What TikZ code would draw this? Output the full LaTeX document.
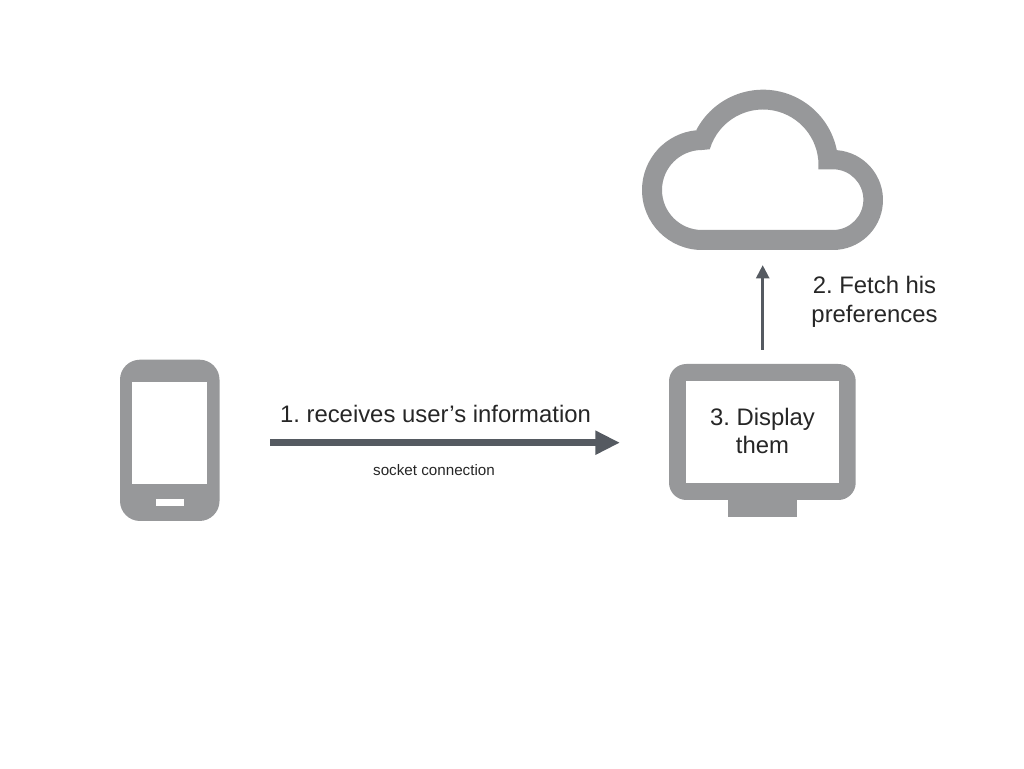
\documentclass[tikz,border=0pt]{standalone}
\usepackage{fontspec}
\setmainfont{Liberation Sans}
\usetikzlibrary{arrows.meta}
\definecolor{icongrey}{HTML}{97989A}
\definecolor{arrowgrey}{HTML}{555A61}
\definecolor{inktext}{HTML}{262626}
\tikzset{
  icon/.style={fill=icongrey,draw=none,even odd rule},
  bigarrow/.style={draw=arrowgrey,line width=4.8pt,-{Triangle[length=18.5pt,width=17pt,fill=arrowgrey]}},
  thinarrow/.style={draw=arrowgrey,line width=2.5pt,-{Triangle[length=10pt,width=9.5pt,fill=arrowgrey]}},
  label/.style={text=inktext,font=\frenchspacing\fontsize{17.9}{21.6}\selectfont,align=center,inner sep=0pt},
  smalllabel/.style={text=inktext,font=\fontsize{11.4}{13}\selectfont,inner sep=0pt}
}
\begin{document}
\begin{tikzpicture}[x=0.75pt,y=0.75pt]
\useasboundingbox (0,0) rectangle (1024,768);
% phone
\path[icon,rounded corners=15pt] (120,247) rectangle (219.5,408.3);
\path[fill=white] (132.3,283.7) rectangle (207.3,386.3);
\path[fill=white] (155.7,261.7) rectangle (184.3,269);
% monitor
\path[icon] (728.3,251.3) rectangle (796.7,275);
\path[icon,rounded corners=13pt] (669,268) rectangle (855.7,404);
\path[fill=white] (685.7,285) rectangle (839,387);
% cloud
\path[icon]
  (702,518) arc[start angle=270,end angle=95,radius=60]
  -- ([shift={(763,603)}]152.2:75.3) arc[start angle=152.2,end angle=11.5,radius=75.3]
  -- ([shift={(833,568)}]85.8:50) arc[start angle=85.8,end angle=-90,radius=50]
  -- cycle
  (702,538) arc[start angle=270,end angle=90,radius=40]
  -- ([shift={(763,603)}]163.5:55.5) arc[start angle=163.5,end angle=-4.5,radius=55.5]
  -- (833,598.7) arc[start angle=90,end angle=-90,radius=30.35]
  -- cycle;
% anchors
\coordinate (phoneout) at (270,325.3);
\coordinate (monitorin) at (620,325.3);
\coordinate (monitorout) at (762.7,418);
\coordinate (cloudin) at (762.7,503);
\draw[bigarrow] (phoneout) -- (monitorin);
\draw[thinarrow] (monitorout) -- (cloudin);
% labels
\node[label] (lone) at (435.5,354) {1. receives user’s information};
\node[smalllabel] (lsock) at (434,298) {socket connection};
\node[label] (ltwo) at (874.5,466) {2. Fetch his\\preferences};
\node[label] (lthree) at (762.5,337) {3. Display\\them};
\end{tikzpicture}
\end{document}
